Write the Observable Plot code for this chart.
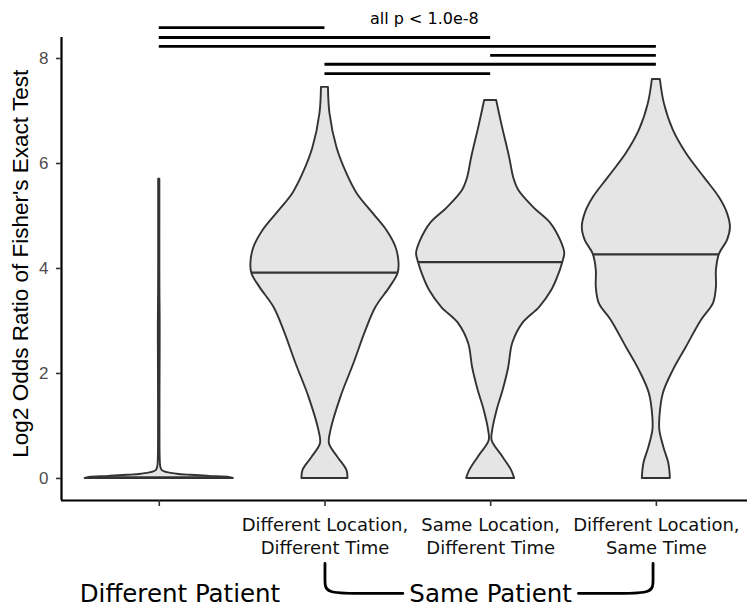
<!DOCTYPE html>
<html><head><meta charset="utf-8">
<script src="https://cdn.jsdelivr.net/npm/d3@7"></script>
<script src="https://cdn.jsdelivr.net/npm/@observablehq/plot@0.6"></script>
<style>body{margin:0;background:#fff}</style>
</head><body><div id="chart"></div>
<script>
// ---------- data ----------
const categories = ["Different Patient", "DL-DT", "SL-DT", "DL-ST"];
const tickLabels = ["", "Different Location,\nDifferent Time", "Same Location,\nDifferent Time", "Different Location,\nSame Time"];
const yTicks = [0, 2, 4, 6, 8];
const yTitle = "Log2 Odds Ratio of Fisher's Exact Test";

// violin profiles: value (log2 OR) and relative density (half-width)
const v0Values  = [0, 0.02, 0.04, 0.06, 0.08, 0.11, 0.15, 0.22, 0.4, 1, 2, 2.5, 3, 3.5, 4, 5, 5.7];
const v0Density = [74, 70, 50, 32, 18, 8, 3, 1.5, 0.9, 0.7, 0.8, 0.9, 0.9, 0.7, 0.6, 0.6, 0.6];
const v1Values  = [0, 0.15, 0.4, 0.66, 0.91, 1.55, 2.19, 2.82, 3.26, 3.64, 3.9, 4.1, 4.4, 4.72, 5.05, 5.43, 5.8, 6.3, 6.95, 7.45];
const v1Density = [23, 22, 13, 4.5, 6, 16, 29, 41, 51, 65, 73, 74, 71, 62, 48, 32, 22, 12, 5, 3.5];
const v2Values  = [0, 0.15, 0.4, 0.72, 0.91, 1.3, 1.68, 2.11, 2.57, 2.95, 3.26, 3.58, 3.83, 4.11, 4.29, 4.53, 4.86, 5.16, 5.49, 5.73, 6.11, 6.76, 7.2];
const v2Density = [24, 21, 12.5, 1.5, 2, 6.5, 12.5, 18, 22, 32, 49, 61, 67, 72, 74, 70, 60, 43, 28, 23, 19, 11, 6];
const v3Values  = [0, 0.28, 0.59, 0.91, 1.16, 1.62, 2.06, 2.5, 3.01, 3.33, 3.64, 3.96, 4.27, 4.53, 4.78, 5.05, 5.35, 5.73, 6.19, 6.63, 7.14, 7.6];
const v3Density = [14, 12.5, 7.5, 3.5, 3.5, 7, 17, 30, 45, 57, 60, 60, 63, 71, 74, 71, 63, 48, 30, 17, 8, 4];
const medians = [0.02, 3.92, 4.12, 4.27];

// significance bars: category index pairs and heights
const sigFrom   = [0, 0, 0, 2, 1, 1];
const sigTo     = [1, 2, 3, 3, 3, 2];
const sigLevels = [8.59, 8.40, 8.23, 8.06, 7.89, 7.71];
const sigNote = [{text: "all p < 1.0e-8", x: 1.6, y: 8.75}];

// group labels under the axis
const groupLabels = [
  {text: "Different Patient", x: 0.125, y: -2.21},
  {text: "Same Patient", x: 2.0, y: -2.21}
];
const bracketLeftX  = [1.0, 1.0, 1.0, 1.2, 1.47];
const bracketRightX = [2.53, 2.78, 2.98, 2.98, 2.98];
const bracketLeftY  = [-1.62, -1.95, -2.19, -2.19, -2.19];
const bracketRightY = [-2.19, -2.19, -2.19, -1.95, -1.62];

// ---------- build ----------
const xDomain = [-0.59, 3.55];
const yDomain = [-0.42, 8.4];
const maxDensity = 74, maxHalfWidth = 0.447;
const profiles = [[v0Values, v0Density], [v1Values, v1Density], [v2Values, v2Density], [v3Values, v3Density]];
const violinRows = profiles.flatMap(([vals, dens], i) =>
  vals.map((v, k) => ({cat: i, v, w: dens[k] / maxDensity * maxHalfWidth})));
function halfWidthAt(i, m) {
  const [vals, dens] = profiles[i];
  for (let k = 0; k < vals.length - 1; k++) {
    if (m >= vals[k] && m <= vals[k + 1]) {
      const t = (m - vals[k]) / (vals[k + 1] - vals[k]);
      return (dens[k] + t * (dens[k + 1] - dens[k])) / maxDensity * maxHalfWidth;
    }
  }
  return 0;
}
const medianRows = medians.map((m, i) => ({cat: i, m, w: halfWidthAt(i, m)}));
const sigRows = sigLevels.map((y, k) => ({y, a: sigFrom[k], b: sigTo[k]}));
const bracketRows = [
  ...bracketLeftX.map((x, k) => ({side: "L", x, y: bracketLeftY[k]})),
  ...bracketRightX.map((x, k) => ({side: "R", x, y: bracketRightY[k]}))
];

const chart = Plot.plot({
  width: 747,
  height: 607,
  marginLeft: 61,
  marginRight: 0,
  marginTop: 37,
  marginBottom: 107,
  style: {fontFamily: "DejaVu Sans", background: "#fff"},
  x: {domain: xDomain, axis: null},
  y: {domain: yDomain, axis: null},
  marks: [
    Plot.areaX(violinRows, {
      y: "v", x1: d => d.cat - d.w, x2: d => d.cat + d.w, z: "cat",
      fill: "#e5e5e5", stroke: "#333333", strokeWidth: 1.9, curve: "catmull-rom"
    }),
    Plot.ruleY(medianRows, {y: "m", x1: d => d.cat - d.w, x2: d => d.cat + d.w, stroke: "#333333", strokeWidth: 2.2}),
    // axes
    Plot.ruleX([xDomain[0]], {stroke: "#000", strokeWidth: 2.2}),
    Plot.ruleY([yDomain[0]], {stroke: "#000", strokeWidth: 2.2}),
    Plot.axisY({ticks: yTicks, tickSize: 5, tickFormat: () => "", stroke: "#333", strokeWidth: 1.6, label: null}),
    Plot.axisY({ticks: yTicks, tickSize: 0, tickPadding: 13, fontSize: 17, fontFamily: "Liberation Sans", color: "#4d4d4d", label: null}),
    Plot.axisX({ticks: [0, 1, 2, 3], tickSize: 6, tickFormat: () => "", stroke: "#333", strokeWidth: 1.6, label: null}),
    Plot.axisX({ticks: [1, 2, 3], tickSize: 0, tickPadding: 14, tickFormat: i => tickLabels[i], fontSize: 18, lineHeight: 1.27, fill: "#111", fontFamily: "DejaVu Sans", label: null}),
    Plot.text([yTitle], {
      x: xDomain[0], y: (yDomain[0] + yDomain[1]) / 2 + 0.1, text: d => d, rotate: -90,
      dx: -41, fontSize: 22.5, fontFamily: "Liberation Sans", fill: "#000"
    }),
    // significance bars
    Plot.ruleY(sigRows, {y: "y", x1: "a", x2: "b", stroke: "#000", strokeWidth: 2.8}),
    Plot.text(sigNote, {x: "x", y: "y", text: "text", fontSize: 16, fontFamily: "DejaVu Sans", fill: "#000"}),
    // group labels + bracket
    Plot.line(bracketRows, {x: "x", y: "y", z: "side", stroke: "#000", strokeWidth: 2.8, curve: "basis"}),
    Plot.text(groupLabels, {x: "x", y: "y", text: "text", fontSize: 24.5, fontFamily: "DejaVu Sans", fill: "#000"})
  ]
});
document.getElementById("chart").appendChild(chart);
</script>
</body></html>
